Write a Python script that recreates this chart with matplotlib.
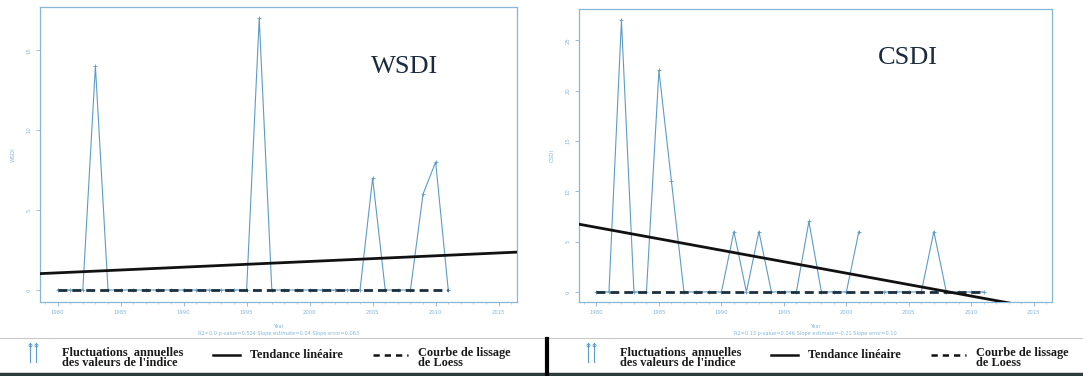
import numpy as np
import matplotlib.pyplot as plt
from matplotlib.lines import Line2D

years = list(range(1980, 2012))

# annual index values (days)
wsdi = [0, 0, 0, 14, 0, 0, 0, 0, 0, 0, 0, 0, 0, 0, 0, 0,
        17, 0, 0, 0, 0, 0, 0, 0, 0, 7, 0, 0, 0, 6, 8, 0]
csdi = [0, 0, 27, 0, 0, 22, 11, 0, 0, 0, 0, 6, 0, 6, 0, 0,
        0, 7, 0, 0, 0, 6, np.nan, 0, 0, 0, 0, 6, 0, 0, 0, 0]

# loess smoothing curves
loess_wsdi = [0.0] * len(years)
loess_csdi = [0.0] * len(years)

xticks = [1980, 1985, 1990, 1995, 2000, 2005, 2010, 2015]
wsdi_yticks = [0, 5, 10, 15]
csdi_yticks = [0, 5, 10, 15, 20, 25]

wsdi_stats = "R2=0.0 p-value=0.524 Slope estimate=0.04 Slope error=0.063"
csdi_stats = "R2=0.13 p-value=0.046 Slope estimate=-0.21 Slope error=0.10"

blue = "#5d9cc6"
frame = "#86b8d6"
dark = "#1c2f3c"

fig = plt.figure(figsize=(10.83, 3.76), dpi=100)
fig.patch.set_facecolor("white")

XLIM = (1978.6, 2016.45)


def panel(rect, vals, loess, yticks, ylim, name, stats, tag_xy):
    ax = fig.add_axes(rect)
    x = np.array(years, dtype=float)
    y = np.array(vals, dtype=float)
    ax.plot(x, y, color=blue, lw=0.8, marker="+", ms=3, mew=0.6, zorder=2)
    ax.plot(x, loess, color=dark, lw=2.0, dashes=(3.2, 1.8), zorder=3)
    ok = ~np.isnan(y)
    slope, icpt = np.polyfit(x[ok], y[ok], 1)
    xt = np.array(XLIM)
    ax.plot(xt, slope * xt + icpt, color="#111111", lw=2.0, zorder=4)
    ax.set_xlim(*XLIM)
    ax.set_ylim(*ylim)
    ax.set_xticks(xticks)
    ax.set_xticks(range(1979, 2017), minor=True)
    ax.set_yticks(yticks)
    ax.tick_params(axis="both", which="major", length=3, width=0.6,
                   color=frame, labelcolor=frame, labelsize=3.8, pad=3)
    ax.tick_params(axis="x", which="minor", length=1.5, width=0.4, color=frame)
    for lab in ax.get_yticklabels():
        lab.set_rotation(90)
        lab.set_va("center")
    for s in ax.spines.values():
        s.set_color(frame)
        s.set_linewidth(0.9)
    ax.set_ylabel(name, fontsize=4, color=frame, labelpad=8)
    ax.set_xlabel("Year\n" + stats, fontsize=3.6, color=frame, labelpad=6,
                  linespacing=1.6)
    fig.text(tag_xy[0], tag_xy[1], name, family="Liberation Serif",
             fontsize=19, color="#1b2b3d", ha="center", va="center")
    return ax


panel([0.0369, 0.1968, 0.4404, 0.7846], wsdi, loess_wsdi, wsdi_yticks,
      (-0.75, 17.7), "WSDI", wsdi_stats, (405 / 1083, 1 - 67 / 376))
panel([0.5346, 0.1968, 0.4367, 0.779], csdi, loess_csdi, csdi_yticks,
      (-1.0, 28.1), "CSDI", csdi_stats, (908 / 1083, 1 - 58 / 376))

# legend strip
W, H = 1083.0, 376.0


def fx(px):
    return px / W


def fy(py):
    return 1 - py / H


fig.add_artist(Line2D([0, 1], [fy(338), fy(338)], color="#c8c8c8", lw=0.8))
fig.add_artist(Line2D([0, 1], [fy(374), fy(374)], color="#2d3c3c", lw=2.5))
fig.add_artist(Line2D([fx(547), fx(547)], [fy(339), fy(376)], color="black", lw=3))

serif = "Liberation Serif"
leg_fs = 8.8
for off in (0, 558):
    # small icon for the annual fluctuations
    for dx in (0, 6):
        fig.add_artist(Line2D([fx(30 + off + dx)] * 2, [fy(362), fy(343)],
                              color=blue, lw=0.8))
        fig.add_artist(Line2D([fx(30 + off + dx)], [fy(345)], color=blue,
                              marker="o", ms=2.2, mfc="none", mew=0.6))
    fig.text(fx(62 + off), fy(358), "Fluctuations  annuelles\ndes valeurs de l'indice",
             family=serif, fontweight="bold", fontsize=leg_fs, va="center",
             ha="left", linespacing=0.85, color="#1a1a1a")
    fig.add_artist(Line2D([fx(213 + off), fx(240 + off)], [fy(355), fy(355)],
                          color="#111111", lw=1.8))
    fig.text(fx(250 + off), fy(355), "Tendance linéaire", family=serif,
             fontweight="bold", fontsize=leg_fs, va="center", ha="left",
             color="#1a1a1a")
    fig.add_artist(Line2D([fx(373 + off), fx(408 + off)], [fy(355), fy(355)],
                          color="#111111", lw=1.8, dashes=(2.5, 2.0)))
    fig.text(fx(418 + off), fy(358), "Courbe de lissage\nde Loess", family=serif,
             fontweight="bold", fontsize=leg_fs, va="center", ha="left",
             linespacing=0.85, color="#1a1a1a")

fig.savefig("out.png", dpi=100)
